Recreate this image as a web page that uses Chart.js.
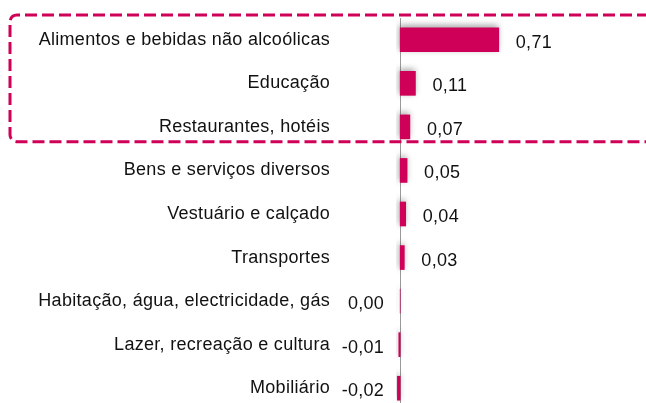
<!DOCTYPE html>
<html>
<head>
<meta charset="utf-8">
<script src="https://cdn.jsdelivr.net/npm/chart.js@4"></script>
<style>
  html, body { margin: 0; padding: 0; background: #fff; overflow: hidden; }
  #wrap { position: relative; width: 646px; height: 410px; }
</style>
</head>
<body>
<div id="wrap"><canvas id="chart"></canvas></div>
<script>
// categories, top to bottom
const categories = [
  'Alimentos e bebidas não alcoólicas',
  'Educação',
  'Restaurantes, hotéis',
  'Bens e serviços diversos',
  'Vestuário e calçado',
  'Transportes',
  'Habitação, água, electricidade, gás',
  'Lazer, recreação e cultura',
  'Mobiliário'
];
const values = [0.71, 0.11, 0.07, 0.05, 0.04, 0.03, 0.00, -0.01, -0.02];
const valueLabels = ['0,71', '0,11', '0,07', '0,05', '0,04', '0,03', '0,00', '-0,01', '-0,02'];
const highlighted = 3; // first three rows sit in the dashed box

const pink = '#cf0058';
const font = { family: '"Liberation Sans", Arial, sans-serif', size: 18 };

// slightly wider text, like the original
const spacing = {
  id: 'spacing',
  beforeDraw(chart) { chart.ctx.letterSpacing = '0.3px'; }
};

// grey zero line, behind the bars
const zeroLine = {
  id: 'zeroLine',
  beforeDatasetsDraw(chart) {
    const ctx = chart.ctx;
    const x0 = Math.round(chart.scales.x.getPixelForValue(0)) + 0.5;
    ctx.save();
    ctx.strokeStyle = '#9a9a9a';
    ctx.lineWidth = 1;
    ctx.beginPath();
    ctx.moveTo(x0, chart.chartArea.top);
    ctx.lineTo(x0, chart.chartArea.bottom);
    ctx.stroke();
    ctx.restore();
  }
};

// soft shadow under the bars
const barShadow = {
  id: 'barShadow',
  beforeDatasetsDraw(chart) {
    const ctx = chart.ctx;
    ctx.save();
    ctx.shadowColor = 'rgba(0,0,0,0.35)';
    ctx.shadowBlur = 6;
    ctx.shadowOffsetX = -1;
    ctx.shadowOffsetY = -2;
  },
  afterDatasetsDraw(chart) {
    chart.ctx.restore();
  }
};

// value labels next to the bars
const valueText = {
  id: 'valueText',
  afterDatasetsDraw(chart) {
    const ctx = chart.ctx;
    const meta = chart.getDatasetMeta(0);
    const x0 = chart.scales.x.getPixelForValue(0);
    ctx.save();
    ctx.font = font.size + 'px ' + font.family;
    ctx.fillStyle = '#111';
    ctx.textBaseline = 'middle';
    meta.data.forEach(function(bar, i) {
      if (values[i] > 0) {
        ctx.textAlign = 'left';
        ctx.fillText(valueLabels[i], bar.x + 17, bar.y + 3);
      } else {
        ctx.textAlign = 'right';
        ctx.fillText(valueLabels[i], x0 - 16, bar.y + 3);
      }
    });
    ctx.restore();
  }
};

// dashed rounded box round the top rows
const dashBox = {
  id: 'dashBox',
  afterDraw(chart) {
    const ctx = chart.ctx;
    const y = chart.scales.y;
    const half = (y.getPixelForValue(1) - y.getPixelForValue(0)) / 2;
    const top = y.getPixelForValue(0) - half - 3;
    const bottom = y.getPixelForValue(highlighted - 1) + half - 7;
    const left = 10, right = 700, r = 7;
    ctx.save();
    ctx.strokeStyle = pink;
    ctx.lineWidth = 3;
    ctx.setLineDash([12, 5]);
    ctx.beginPath();
    ctx.moveTo(right, top);
    ctx.lineTo(left + r, top);
    ctx.arcTo(left, top, left, top + r, r);
    ctx.lineTo(left, bottom - r);
    ctx.arcTo(left, bottom, left + r, bottom, r);
    ctx.lineTo(right, bottom);
    ctx.stroke();
    ctx.restore();
  }
};

new Chart(document.getElementById('chart'), {
  type: 'bar',
  data: {
    labels: categories,
    datasets: [{
      data: values,
      backgroundColor: pink,
      borderWidth: 0,
      barThickness: 24
    }]
  },
  options: {
    indexAxis: 'y',
    responsive: true,
    maintainAspectRatio: false,
    animation: false,
    layout: { padding: { top: 18, right: 0, bottom: 0, left: 0 } },
    plugins: {
      legend: { display: false },
      tooltip: { enabled: false }
    },
    scales: {
      x: {
        display: false,
        min: -0.03,
        max: 1.77
      },
      y: {
        border: { display: false },
        grid: { display: false, drawTicks: false },
        ticks: { color: '#111', font: font, padding: 66 },
        afterFit: function(scale) {
          scale.width = 396;
          scale.paddingTop = 0;
          scale.paddingBottom = 0;
        }
      }
    }
  },
  plugins: [spacing, zeroLine, barShadow, valueText, dashBox]
});
</script>
</body>
</html>
